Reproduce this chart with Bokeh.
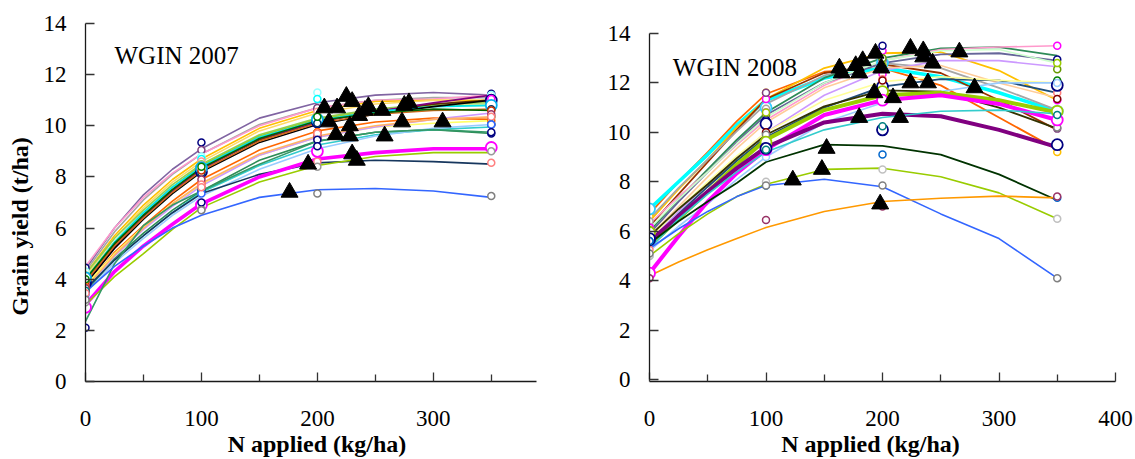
import math
from bokeh.plotting import figure
from bokeh.models import Range1d, FixedTicker, Label
from bokeh.layouts import row
from bokeh.embed import file_html
from bokeh.resources import INLINE

FONT = "Liberation Serif"
NBSP = "\u00a0"

# ---------------- shared axes data ----------------
N_GRID = [0, 25, 50, 75, 100, 150, 200, 250, 300, 350]
N_OBS = [0, 100, 200, 350]
X_TICKS = [0, 100, 200, 300, 400]
X_MINOR = [50, 150, 250, 350]
Y_TICKS = [0, 2, 4, 6, 8, 10, 12, 14]
X_LABEL = "N applied (kg/ha)"
Y_LABEL = "Grain yield (t/ha)"

# ---------------- WGIN 2007 ----------------
TITLE07 = "WGIN 2007"
LINE07 = [
    [4.4, 6.0, 7.3, 8.3, 9.1, 10.3, 10.9, 11.2, 11.3, 11.2],
    [4.3, 5.85, 7.1, 8.1, 8.9, 10.05, 10.7, 11.0, 11.1, 11.1],
    [4.5, 6.0, 7.2, 8.15, 8.9, 10.0, 10.7, 11.0, 11.05, 11.2],
    [4.2, 5.7, 6.9, 7.9, 8.7, 9.9, 10.6, 10.95, 11.0, 11.0],
    [4.1, 5.6, 6.8, 7.8, 8.6, 9.8, 10.5, 10.85, 11.0, 10.9],
    [4.2, 5.6, 6.7, 7.7, 8.5, 9.65, 10.3, 10.65, 10.85, 10.9],
    [4.0, 5.45, 6.6, 7.6, 8.45, 9.6, 10.25, 10.6, 10.8, 10.8],
    [3.9, 5.35, 6.5, 7.5, 8.35, 9.45, 10.15, 10.55, 10.85, 11.0],
    [3.8, 5.25, 6.45, 7.45, 8.3, 9.5, 10.15, 10.55, 10.9, 11.2],
    [4.0, 5.45, 6.6, 7.6, 8.4, 9.55, 10.2, 10.55, 10.75, 10.8],
    [3.8, 5.2, 6.35, 7.35, 8.2, 9.35, 10.05, 10.45, 10.75, 11.0],
    [3.9, 5.3, 6.4, 7.4, 8.25, 9.4, 10.1, 10.45, 10.6, 10.65],
    [4.0, 5.4, 6.5, 7.5, 8.35, 9.5, 10.2, 10.5, 10.65, 10.6],
    [3.7, 5.05, 6.1, 7.05, 7.9, 9.05, 9.8, 10.15, 10.3, 10.25],
    [3.75, 5.0, 6.05, 6.95, 7.7, 8.85, 9.55, 9.95, 10.1, 10.2],
    [3.6, 4.9, 5.95, 6.85, 7.65, 8.85, 9.55, 9.95, 10.25, 10.5],
    [3.65, 4.95, 6.0, 6.95, 7.75, 8.9, 9.6, 10.0, 10.25, 10.35],
    [3.5, 4.8, 5.8, 6.7, 7.45, 8.65, 9.4, 9.75, 9.85, 9.7],
    [3.6, 4.75, 5.7, 6.6, 7.4, 8.45, 9.25, 9.65, 9.85, 9.95],
    [3.45, 4.65, 5.6, 6.5, 7.25, 8.3, 9.1, 9.6, 9.9, 10.05],
    [3.6, 4.75, 5.7, 6.6, 7.35, 8.1, 8.55, 8.65, 8.6, 8.5],
    [3.0, 4.3, 5.3, 6.15, 6.95, 8.0, 8.7, 8.95, 9.1, 9.1],
    [3.0, 4.1, 5.0, 5.95, 6.8, 7.8, 8.45, 8.8, 8.95, 8.95],
    [2.35, 4.6, 6.1, 6.9, 7.45, 8.5, 9.4, 9.75, 9.85, 9.75],
    [3.5, 4.5, 5.3, 6.0, 6.5, 7.2, 7.5, 7.55, 7.45, 7.2],
]
COLOR07 = [
    "#8064a2", "#a6a6a6", "#ff99cc", "#ffc000", "#ffd966", "#92d050",
    "#9acd32", "#5c2e00", "#800080", "#00e5ee", "#000000", "#d2691e",
    "#006400", "#ff6600", "#ffff66", "#cc99ff", "#ffb366", "#2e8b57",
    "#33cccc", "#99ccff", "#17375e", "#ff00ff", "#99cc00", "#339966",
    "#3366ff",
]
WIDTH07 = [1.6, 1.6, 1.6, 1.6, 1.6, 1.6, 1.6, 1.8, 1.8, 1.8, 1.6, 1.6,
           1.6, 1.6, 1.6, 1.6, 1.6, 1.6, 1.6, 1.6, 1.6, 3.6, 1.6, 1.6, 1.6]
OBS07 = [
    [4.45, 9.35, 10.65, 11.25],
    [4.2, 9.05, 10.7, 11.1],
    [4.3, 8.8, 11.3, 11.2],
    [4.1, 8.7, 11.05, 11.0],
    [4.0, 8.6, 10.55, 10.9],
    [4.15, 8.5, 10.3, 10.85],
    [3.95, 8.45, 10.2, 10.8],
    [3.85, 8.2, 10.15, 11.0],
    [3.8, 8.3, 10.25, 11.05],
    [4.05, 8.35, 10.25, 10.8],
    [3.75, 8.15, 10.1, 10.65],
    [3.9, 8.25, 9.75, 10.6],
    [4.0, 8.4, 10.35, 10.35],
    [3.7, 7.75, 9.75, 10.2],
    [3.6, 7.6, 9.5, 10.05],
    [3.65, 7.9, 9.6, 10.45],
    [3.5, 7.7, 9.7, 10.35],
    [3.5, 7.45, 9.45, 9.7],
    [3.55, 7.5, 9.2, 10.05],
    [3.4, 7.35, 9.0, 10.05],
    [3.45, 7.6, 8.6, 8.55],
    [2.9, 6.9, 9.0, 9.15],
    [3.1, 6.75, 8.4, 9.0],
    [2.1, 7.0, 9.2, 9.75],
    [3.2, 6.7, 7.35, 7.25],
]
OBS_COLOR07 = [
    "#000080", "#7f3f7f", "#99ffff", "#00ffff", "#ff9999", "#92d050",
    "#9999ff", "#000080", "#ff00ff", "#00b0f0", "#003366", "#cc3300",
    "#008000", "#ff6600", "#993366", "#993366", "#ff8080", "#000080",
    "#008080", "#3366ff", "#ff8080", "#ff00ff", "#999999", "#000080",
    "#808080",
]
OBS_SIZE07 = [7, 7, 7, 7, 7, 7, 7, 11, 7, 11, 7, 7, 7, 7, 7, 7, 7, 7,
              7, 7, 7, 11, 7, 7, 7]
TRI07_N = [176, 192, 206, 217, 210, 216, 225, 230, 228, 228, 230, 234,
           236, 241, 244, 256, 258, 273, 275, 279, 308]
TRI07_Y = [7.4, 8.5, 10.7, 10.7, 10.15, 9.65, 11.15, 10.95, 9.6, 10.0,
           8.9, 8.65, 10.4, 10.6, 10.75, 10.6, 9.6, 10.15, 10.8, 10.9, 10.15]

# ---------------- WGIN 2008 ----------------
TITLE08 = "WGIN 2008"
LINE08 = [
    [6.7, 8.0, 9.2, 10.45, 11.55, 12.45, 12.6, 11.9, 10.6, 9.3],
    [6.9, 8.0, 9.1, 10.3, 11.3, 12.2, 12.6, 12.25, 11.6, 10.85],
    [6.4, 7.7, 8.9, 10.2, 11.35, 12.6, 13.2, 13.25, 12.5, 11.3],
    [6.2, 7.5, 8.8, 10.1, 11.35, 12.4, 12.75, 12.4, 11.3, 10.1],
    [6.5, 7.75, 8.9, 10.05, 11.15, 12.3, 12.8, 12.6, 11.8, 10.9],
    [6.0, 7.3, 8.5, 9.7, 10.8, 12.2, 13.0, 13.4, 13.45, 13.1],
    [6.3, 7.4, 8.4, 9.5, 10.5, 11.9, 12.9, 13.35, 13.45, 13.5],
    [5.9, 7.2, 8.4, 9.6, 10.7, 12.0, 12.8, 13.15, 13.2, 12.9],
    [6.1, 7.3, 8.4, 9.55, 10.6, 12.0, 12.9, 13.3, 13.35, 12.8],
    [5.6, 6.8, 7.9, 9.0, 10.0, 11.5, 12.5, 12.9, 12.9, 12.65],
    [5.8, 7.0, 8.2, 9.35, 10.4, 11.8, 12.6, 12.7, 12.0, 11.4],
    [5.5, 6.7, 7.8, 8.85, 9.8, 11.0, 11.85, 12.15, 12.1, 11.6],
    [5.7, 6.9, 8.0, 9.05, 10.0, 11.3, 12.05, 12.25, 12.1, 12.0],
    [5.2, 6.2, 7.1, 8.1, 9.0, 10.4, 11.2, 11.65, 12.0, 12.0],
    [5.8, 6.9, 7.9, 8.95, 9.9, 11.05, 11.7, 11.65, 11.0, 10.15],
    [5.4, 6.5, 7.6, 8.7, 9.7, 10.9, 11.5, 11.6, 11.3, 10.8],
    [4.3, 5.8, 7.2, 8.35, 9.3, 10.7, 11.3, 11.5, 11.15, 10.5],
    [5.6, 6.6, 7.6, 8.55, 9.4, 10.4, 10.75, 10.65, 10.1, 9.4],
    [5.3, 6.5, 7.5, 8.4, 9.2, 10.1, 10.6, 10.85, 10.9, 10.75],
    [5.5, 6.4, 7.2, 7.95, 8.8, 9.5, 9.45, 9.1, 8.3, 7.25],
    [5.0, 5.9, 6.7, 7.4, 7.9, 8.5, 8.55, 8.2, 7.55, 6.5],
    [5.3, 6.1, 6.8, 7.4, 7.85, 8.1, 7.8, 6.7, 5.7, 4.1],
    [4.2, 4.75, 5.25, 5.7, 6.15, 6.8, 7.2, 7.33, 7.42, 7.35],
]
COLOR08 = [
    "#ff6600", "#00ffff", "#ffc000", "#993300", "#a6a6a6", "#2e8b57",
    "#ff99cc", "#666699", "#ccffcc", "#cc99ff", "#ffcc99", "#1f4e79",
    "#ffff99", "#99ccff", "#333300", "#99cc00", "#ff00ff", "#800080",
    "#33cccc", "#003300", "#99cc00", "#3366ff", "#ff9900",
]
WIDTH08 = [1.8, 3.6, 1.8, 1.8, 1.8, 1.8, 1.6, 1.8, 1.6, 1.6, 1.6, 1.8,
           1.6, 1.6, 1.8, 4.0, 4.0, 4.0, 1.6, 1.8, 1.6, 1.6, 1.6]
OBS08 = [
    [6.6, 11.6, 12.7, 9.2],
    [6.9, 11.0, 12.8, 10.85],
    [6.2, 11.35, 13.3, 11.3],
    [6.05, 11.6, 12.9, 10.15],
    [6.4, 10.95, 12.75, 10.9],
    [5.95, 10.7, 13.0, 12.55],
    [6.15, 10.8, 12.35, 13.5],
    [5.7, 10.5, 13.5, 12.95],
    [6.05, 10.8, 12.7, 12.8],
    [5.6, 9.95, 11.85, 12.1],
    [5.25, 9.55, 12.15, 11.6],
    [5.65, 10.35, 11.85, 11.9],
    [5.9, 10.0, 12.1, 11.35],
    [5.0, 9.0, 11.3, 12.0],
    [5.95, 9.9, 11.65, 10.2],
    [5.95, 9.6, 11.65, 10.85],
    [4.3, 9.3, 11.3, 10.5],
    [5.7, 9.35, 10.1, 9.5],
    [5.6, 9.3, 10.25, 10.7],
    [5.6, 7.85, 9.1, 7.35],
    [5.0, 8.0, 8.5, 6.5],
    [5.1, 7.85, 7.85, 4.1],
    [4.1, 6.45, 7.0, 7.4],
]
OBS_COLOR08 = [
    "#ffc000", "#33ccff", "#ff00ff", "#7f3f7f", "#a6a6a6", "#669900",
    "#ff00ff", "#000080", "#99cc00", "#008000", "#ff8080", "#000080",
    "#800000", "#99ccff", "#808080", "#99cc00", "#ff00ff", "#000080",
    "#008080", "#0066cc", "#c0c0c0", "#808080", "#993366",
]
OBS_SIZE08 = [7, 11, 7, 7, 7, 7, 7, 7, 7, 7, 7, 11, 7, 7, 7, 11, 11, 11,
              7, 7, 7, 7, 7]
TRI08_N = [123, 148, 152, 180, 215, 198, 193, 209, 165, 163, 177, 183,
           180, 194, 199, 224, 235, 235, 243, 224, 239, 266, 279]
TRI08_Y = [8.07, 8.5, 9.35, 10.6, 10.6, 7.1, 11.6, 11.4, 12.4, 12.6, 12.7,
           12.9, 12.4, 13.2, 12.6, 13.4, 13.3, 13.05, 12.8, 12.0, 12.0,
           13.25, 11.8]


def style_axes(p):
    for ax in (p.xaxis[0], p.yaxis[0]):
        ax.axis_line_color = "#1a1a1a"
        ax.axis_line_width = 1.3
        ax.major_tick_line_color = "#333333"
        ax.major_tick_line_width = 1.3
        ax.major_tick_in = 9
        ax.major_tick_out = 0
        ax.minor_tick_in = 7
        ax.minor_tick_out = 0
        ax.major_label_text_font = FONT
        ax.major_label_text_font_size = "23px"
        ax.major_label_text_color = "#000000"
        ax.axis_label_text_font = FONT
        ax.axis_label_text_font_size = "24px"
        ax.axis_label_text_font_style = "bold"
        ax.axis_label_text_color = "#000000"
    p.xaxis.ticker = FixedTicker(ticks=X_TICKS, minor_ticks=X_MINOR)
    p.xaxis.minor_tick_line_color = "#333333"
    p.xaxis.minor_tick_line_width = 1.3
    p.yaxis.ticker = FixedTicker(ticks=Y_TICKS, minor_ticks=[])
    p.yaxis.minor_tick_line_color = None
    p.xaxis.major_label_standoff = 29
    p.yaxis.major_label_standoff = 19
    p.xaxis.axis_label_standoff = 2
    p.yaxis.axis_label_standoff = 8
    p.yaxis.bounds = (0, 14)
    p.xgrid.visible = False
    p.ygrid.visible = False
    p.outline_line_color = None


def draw_series(p, lines, colors, widths, obs, obs_colors, obs_sizes, tri_n, tri_y):
    for ys, c, w in zip(lines, colors, widths):
        p.line(N_GRID, ys, line_color=c, line_width=w, line_join="round")
    for ys, c, s in zip(obs, obs_colors, obs_sizes):
        p.scatter(N_OBS, ys, marker="circle", size=s, fill_color="white",
                  line_color=c, line_width=1.8 if s > 8 else 1.5)
    p.scatter(tri_n, tri_y, marker="triangle", size=17,
              fill_color="black", line_color="black")


# ---------------- left panel ----------------
p1 = figure(width=537, height=459, x_range=Range1d(0, 389), y_range=Range1d(0, 14),
            output_backend="svg", toolbar_location=None,
            min_border_left=85, min_border_right=1, min_border_top=23,
            min_border_bottom=77)
style_axes(p1)
p1.xaxis.axis_label = NBSP * 2 + X_LABEL
p1.yaxis.axis_label = Y_LABEL + NBSP * 8
draw_series(p1, LINE07, COLOR07, WIDTH07, OBS07, OBS_COLOR07, OBS_SIZE07,
            TRI07_N, TRI07_Y)
p1.add_layout(Label(x=25, y=12.75, text=TITLE07, text_font=FONT,
                    text_font_size="25px", text_baseline="alphabetic",
                    text_align="left", text_color="#000000"))

# ---------------- right panel ----------------
# frames of a row share top/bottom borders; the y range is widened so that
# 0..14 sits where the reference draws it, and the axis is bounded to 0..14
p2 = figure(width=597, height=459, x_range=Range1d(0, 400),
            y_range=Range1d(-0.081, 14.403),
            output_backend="svg", toolbar_location=None,
            min_border_left=112, min_border_right=19, min_border_top=23,
            min_border_bottom=77)
style_axes(p2)
p2.xaxis.axis_label = X_LABEL + NBSP * 4
draw_series(p2, LINE08, COLOR08, WIDTH08, OBS08, OBS_COLOR08, OBS_SIZE08,
            TRI08_N, TRI08_Y)
p2.add_layout(Label(x=20, y=12.63, text=TITLE08, text_font=FONT,
                    text_font_size="25px", text_baseline="alphabetic",
                    text_align="left", text_color="#000000"))

layout = row(p1, p2)
open("out.html", "w").write(file_html(layout, INLINE))
